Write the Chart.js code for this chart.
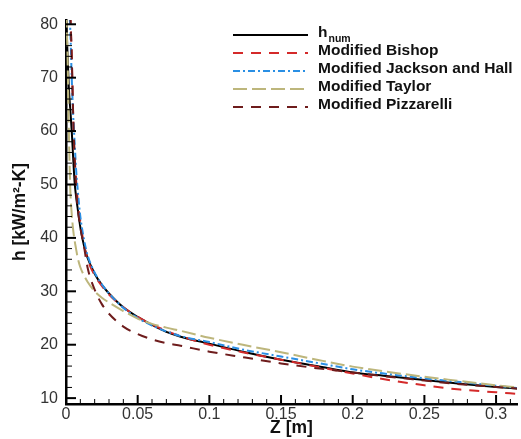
<!DOCTYPE html>
<html>
<head>
<meta charset="utf-8">
<script src="https://cdn.jsdelivr.net/npm/chart.js@4.4.1/dist/chart.umd.min.js"></script>
<style>
  body { margin: 0; background: #fff; }
  canvas { display: block; }
</style>
</head>
<body>
<canvas id="hChart" width="521" height="439"></canvas>
<script>
// axial position Z [m]
const zValues = [0.0002, 0.001, 0.002, 0.003, 0.004, 0.005, 0.006, 0.007, 0.008, 0.01,
    0.0125, 0.015, 0.02, 0.025, 0.03, 0.04, 0.05, 0.06, 0.07, 0.08,
    0.1, 0.125, 0.15, 0.175, 0.2, 0.225, 0.25, 0.275, 0.3, 0.315];

// heat transfer coefficient h [kW/m2-K]
const hNum = [80.5, 75, 68, 64, 60, 55, 50.5, 47.8, 45.8, 42,
    38.6, 36.3, 33.3, 31.2, 29.6, 27, 25.2, 23.7, 22.4, 21.5,
    20.2, 18.6, 17.2, 16.0, 14.8, 14.1, 13.4, 12.7, 12.1, 11.8];
const hBishop = [null, null, null, 82, 74, 63, 55.5, 51, 47.5, 43,
    38.8, 36, 33, 31, 29.4, 27, 25.2, 23.8, 22.6, 21.6,
    20, 18.5, 17.2, 15.9, 14.6, 13.4, 12.4, 11.6, 11.1, 10.8];
const hJackson = [null, null, 84, 79, 70, 63, 58, 53, 49.5, 44,
    39.8, 36.8, 33.5, 31.3, 29.6, 26.9, 25, 23.6, 22.5, 21.6,
    20.5, 19.0, 17.8, 16.6, 15.4, 14.5, 13.7, 13.0, 12.3, 11.9];
const hTaylor = [82, 75, 60, 49, 44.5, 41.5, 39.5, 38, 36.5, 34.5,
    33, 31.8, 30, 28.8, 27.9, 26.3, 24.9, 23.9, 23.2, 22.6,
    21.3, 19.9, 18.6, 17.2, 15.9, 14.9, 14.0, 13.2, 12.4, 12.0];
const hPizzarelli = [null, null, null, 82, 74, 63, 55, 49.5, 46, 42,
    38.5, 34.5, 30.3, 27.6, 25.8, 23.4, 22, 21, 20.3, 19.8,
    18.7, 17.6, 16.5, 15.6, 14.8, 14.0, 13.3, 12.6, 12.1, 11.8];

const seriesLabels = ['h_num', 'Modified Bishop', 'Modified Jackson and Hall', 'Modified Taylor', 'Modified Pizzarelli'];
const seriesValues = [hNum, hBishop, hJackson, hTaylor, hPizzarelli];
const seriesColors = ['#000000', '#d42a2a', '#2a8fe4', '#bdb67c', '#6e1c1c'];
const seriesDashes = [[], [10, 8], [7, 3, 2, 3], [14, 5], [10, 8]];

const xTicks = [0, 0.05, 0.1, 0.15, 0.2, 0.25, 0.3];
const yTicks = [10, 20, 30, 40, 50, 60, 70, 80];

const FONT = "'Liberation Sans', Arial, sans-serif";

const datasets = seriesLabels.map((label, i) => ({
    label: label,
    data: zValues.map((z, j) => ({ x: z, y: seriesValues[i][j] })),
    borderColor: seriesColors[i],
    borderDash: seriesDashes[i],
    borderWidth: 2,
    pointRadius: 0,
    fill: false,
    cubicInterpolationMode: 'monotone',
    order: seriesLabels.length - i
}));

// inward major / minor ticks like the original plot
const tickMarks = {
    id: 'tickMarks',
    afterDraw(chart) {
        const ctx = chart.ctx;
        const area = chart.chartArea;
        const xs = chart.scales.x, ys = chart.scales.y;
        ctx.save();
        ctx.strokeStyle = '#000';

        const xv = xs.ticks.map(t => t.value);
        const yv = ys.ticks.map(t => t.value);

        ctx.lineWidth = 2;
        xv.forEach(v => {
            const p = xs.getPixelForValue(v);
            ctx.beginPath(); ctx.moveTo(p, area.bottom); ctx.lineTo(p, area.bottom - 9); ctx.stroke();
        });
        yv.forEach(v => {
            const p = ys.getPixelForValue(v);
            ctx.beginPath(); ctx.moveTo(area.left, p); ctx.lineTo(area.left + 10, p); ctx.stroke();
        });

        ctx.lineWidth = 1;
        const xStep = (xv[1] - xv[0]) / 5;
        for (let v = xv[0] + xStep; v <= xs.max; v += xStep) {
            if (xv.some(m => Math.abs(m - v) < 1e-9)) continue;
            const p = xs.getPixelForValue(v);
            ctx.beginPath(); ctx.moveTo(p, area.bottom); ctx.lineTo(p, area.bottom - 5); ctx.stroke();
        }
        const yStep = (yv[1] - yv[0]) / 5;
        for (let v = yv[0]; v <= ys.max; v += yStep) {
            if (yv.some(m => Math.abs(m - v) < 1e-9)) continue;
            const p = ys.getPixelForValue(v);
            ctx.beginPath(); ctx.moveTo(area.left, p); ctx.lineTo(area.left + 6, p); ctx.stroke();
        }
        ctx.restore();
    }
};

// legend drawn inside the plot, top right
const innerLegend = {
    id: 'innerLegend',
    afterDraw(chart) {
        const ctx = chart.ctx;
        ctx.save();
        chart.data.datasets.forEach((ds, i) => {
            const y = 35 + i * 18;
            ctx.strokeStyle = ds.borderColor;
            ctx.lineWidth = 2;
            ctx.setLineDash(ds.borderDash);
            ctx.beginPath(); ctx.moveTo(233, y); ctx.lineTo(308, y); ctx.stroke();
            ctx.setLineDash([]);

            ctx.fillStyle = '#111';
            ctx.textBaseline = 'middle';
            ctx.textAlign = 'left';
            const parts = ds.label.split('_');
            ctx.font = 'bold 15.5px ' + FONT;
            ctx.fillText(parts[0], 318, y - 2);
            if (parts[1]) {
                const w = ctx.measureText(parts[0]).width;
                ctx.font = 'bold 10.5px ' + FONT;
                ctx.fillText(parts[1], 318 + w + 1, y + 4);
            }
        });
        ctx.restore();
    }
};

const config = {
    type: 'line',
    data: { datasets: datasets },
    options: {
        responsive: false,
        animation: false,
        layout: { padding: { top: 20, right: 4, left: 0, bottom: 0 } },
        plugins: {
            legend: { display: false },
            tooltip: { enabled: false }
        },
        scales: {
            x: {
                type: 'linear',
                min: 0,
                max: 0.3146,
                afterBuildTicks: scale => { scale.ticks = xTicks.map(v => ({ value: v })); },
                afterFit: scale => { scale.height = 35; },
                grid: { display: true, drawOnChartArea: false, drawTicks: false, color: 'rgba(0,0,0,0)' },
                border: { display: true, color: '#000', width: 2.5 },
                ticks: {
                    padding: 1,
                    color: '#333',
                    font: { family: FONT, size: 16 },
                    maxRotation: 0,
                    callback: v => String(+v.toFixed(3))
                },
                title: {
                    display: true,
                    text: 'Z [m]',
                    color: '#111',
                    font: { family: FONT, size: 17.5, weight: 'bold' },
                    padding: { top: 0, bottom: 0 }
                }
            },
            y: {
                type: 'linear',
                min: 8.9,
                max: 80.8,
                afterBuildTicks: scale => { scale.ticks = yTicks.map(v => ({ value: v })); },
                afterFit: scale => { scale.width = 66; },
                grid: { display: true, drawOnChartArea: false, drawTicks: false, color: 'rgba(0,0,0,0)' },
                border: { display: true, color: '#000', width: 2.5 },
                ticks: {
                    padding: 8,
                    color: '#333',
                    font: { family: FONT, size: 16 }
                },
                title: {
                    display: true,
                    text: 'h [kW/m²-K]',
                    color: '#111',
                    font: { family: FONT, size: 17.5, weight: 'bold' },
                    padding: { top: 10, bottom: 0 }
                }
            }
        }
    },
    plugins: [tickMarks, innerLegend]
};

window.onload = function() {
    const ctx = document.getElementById('hChart').getContext('2d');
    new Chart(ctx, config);
};
</script>
</body>
</html>
